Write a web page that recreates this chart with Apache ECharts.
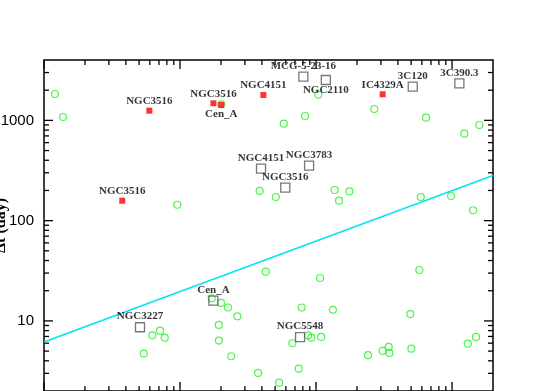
<!DOCTYPE html>
<html>
<head>
<meta charset="utf-8">
<script src="https://cdn.jsdelivr.net/npm/echarts@6/dist/echarts.min.js"></script>
<style>html,body{margin:0;padding:0;background:#fff;}#c{width:545px;height:391px;}</style>
</head>
<body>
<div id="c"></div>
<script>
// ---- data ----
var circleX = [1.205, 1.38, 9.55, 20.1, 104, 83, 57.9, 38.5, 50.6, 137, 176, 147.6, 268, 644, 1231, 1588, 589, 984, 1427,
  6.26, 7.13, 7.72, 5.41, 17.1, 20.0, 22.5, 26.4, 19.3, 19.3, 23.8, 37.5, 53.5, 42.7, 107, 78.5, 133, 67, 87.4, 92.3, 109,
  74.6, 241, 575, 493, 309, 342, 346, 502, 1304, 1500];
var circleY = [1832, 1081, 144, 1446, 1803, 1106, 927, 198, 172, 202, 196, 158, 1299, 1064, 736, 899, 172, 176, 127,
  7.19, 8.0, 6.81, 4.72, 16.8, 15.1, 13.6, 11.1, 9.12, 6.36, 4.44, 3.03, 2.42, 31.0, 26.8, 13.6, 12.9, 5.99, 7.19, 6.81, 6.92,
  3.34, 4.55, 32.2, 11.7, 5.02, 5.5, 4.8, 5.29, 5.93, 6.92];

var redNames = ['NGC3516', 'NGC3516', 'NGC3516', 'Cen_A', 'NGC4151', 'IC4329A'];
var redX = [5.95, 3.76, 17.6, 20.1, 41.0, 309];
var redY = [1249, 158, 1480, 1423, 1791, 1820];
var redLabelPos = ['top', 'top', 'top', 'bottom', 'top', 'top'];

var openNames = ['MCG-5-23-16', 'NGC2110', 'NGC4151', 'NGC3783', 'NGC3516', '3C120', '3C390.3', 'NGC3227', 'Cen_A', 'NGC5548'];
var openX = [80.7, 118, 39.4, 88.9, 59.4, 514, 1132, 5.08, 17.6, 76.3];
var openY = [2726, 2528, 330, 353, 213, 2167, 2342, 8.65, 15.9, 6.88];
var openLabelPos = ['top', 'bottom', 'top', 'top', 'top', 'top', 'top', 'top', 'top', 'top'];

var lineX = [1, 2000];
var lineY = [6.17, 282];

var xMin = 1, xMax = 2000, yMin = 2, yMax = 4000;
var decadesX = [1, 10, 100, 1000];
var decadesY = [1, 10, 100, 1000];
var minorMult = [2, 3, 4, 5, 6, 7, 8, 9];
var yTickLabels = ['10', '100', '1000'];
var yAxisTitle = 'Δt (day)';

// ---- build tick lists ----
var xTicks = [], yTicks = [];
decadesX.forEach(function (d) {
  if (d >= xMin && d <= xMax) xTicks.push([d, yMin, 1]);
  minorMult.forEach(function (m) { var v = d * m; if (v > xMin && v < xMax) xTicks.push([v, yMin, 0]); });
});
decadesY.forEach(function (d) {
  if (d >= yMin && d <= yMax) yTicks.push([xMin, d, 1]);
  minorMult.forEach(function (m) { var v = d * m; if (v > yMin && v < yMax) yTicks.push([xMin, v, 0]); });
});

var labelFont = { fontFamily: 'Liberation Serif', fontWeight: 'bold', fontSize: 11, color: '#000' };

function pts(xs, ys, names, pos, dist) {
  return xs.map(function (x, i) {
    var o = { value: [x, ys[i]] };
    if (names) {
      o.label = Object.assign({ show: true, position: pos[i], distance: dist, formatter: names[i] }, labelFont);
    }
    return o;
  });
}

function tickRender(isX) {
  return function (params, api) {
    var cs = params.coordSys;
    var p = api.coord([api.value(0), api.value(1)]);
    var len = api.value(2) ? 9 : 5;
    var st = { stroke: '#000', lineWidth: 1.3 };
    if (isX) {
      return { type: 'group', children: [
        { type: 'line', shape: { x1: p[0], y1: cs.y, x2: p[0], y2: cs.y + len }, style: st },
        { type: 'line', shape: { x1: p[0], y1: cs.y + cs.height, x2: p[0], y2: cs.y + cs.height - len }, style: st }
      ] };
    }
    return { type: 'group', children: [
      { type: 'line', shape: { x1: cs.x, y1: p[1], x2: cs.x + len, y2: p[1] }, style: st },
      { type: 'line', shape: { x1: cs.x + cs.width, y1: p[1], x2: cs.x + cs.width - len, y2: p[1] }, style: st }
    ] };
  };
}

var chart = echarts.init(document.getElementById('c'), null, { renderer: 'canvas' });
chart.setOption({
  animation: false,
  backgroundColor: '#fff',
  grid: { left: 44, right: 52, top: 60, bottom: 0, containLabel: false, outerBoundsMode: 'none',
    show: true, borderColor: '#000', borderWidth: 1.5, backgroundColor: 'transparent' },
  xAxis: {
    type: 'log', logBase: 10, min: xMin, max: xMax,
    axisLine: { show: false }, axisTick: { show: false }, splitLine: { show: false }, axisLabel: { show: false }
  },
  yAxis: {
    type: 'log', logBase: 10, min: yMin, max: yMax,
    name: yAxisTitle, nameLocation: 'middle', nameRotate: 90, nameGap: 35, nameMoveOverlap: false,
    nameTextStyle: { fontFamily: 'Liberation Serif', fontWeight: 'bold', fontSize: 16, color: '#000' },
    axisLine: { show: false }, axisTick: { show: false }, splitLine: { show: false },
    axisLabel: {
      show: true, margin: 10, fontFamily: 'Liberation Sans', fontSize: 15, color: '#000',
      formatter: function (v) { var s = String(Math.round(v)); return yTickLabels.indexOf(s) >= 0 ? s : ''; }
    }
  },
  series: [
    { type: 'custom', renderItem: tickRender(true), data: xTicks, clip: false, silent: true, z: 1 },
    { type: 'custom', renderItem: tickRender(false), data: yTicks, clip: false, silent: true, z: 1 },
    {
      type: 'scatter', symbol: 'circle', symbolSize: 7,
      itemStyle: { color: 'rgba(0,0,0,0)', borderColor: '#22f022', borderWidth: 1.2 },
      data: pts(circleX, circleY), z: 2
    },
    {
      type: 'line', data: pts(lineX, lineY), showSymbol: false, symbol: 'none',
      lineStyle: { color: '#00e5f0', width: 1.6 }, z: 3
    },
    {
      type: 'scatter', symbol: 'rect', symbolSize: 6,
      itemStyle: { color: '#ff0000' },
      data: pts(redX, redY, redNames, redLabelPos, 1), z: 4
    },
    {
      type: 'scatter', symbol: 'rect', symbolSize: 9,
      itemStyle: { color: 'rgba(0,0,0,0)', borderColor: '#555', borderWidth: 1.3 },
      data: pts(openX, openY, openNames, openLabelPos, 0), z: 5
    }
  ]
});
</script>
</body>
</html>
